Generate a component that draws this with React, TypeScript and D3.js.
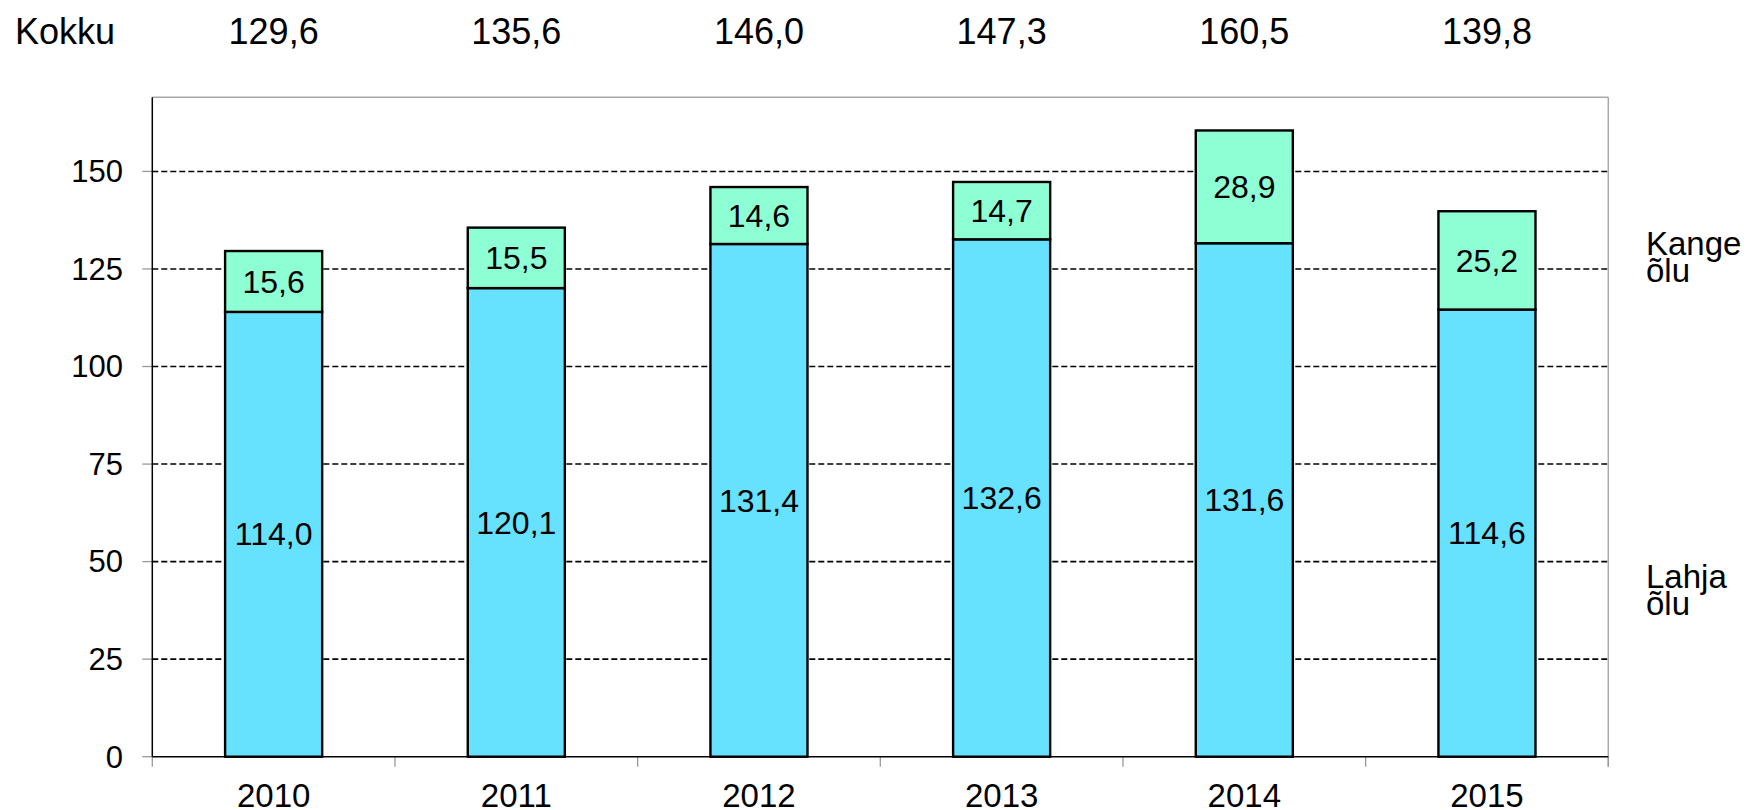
import React from 'react';
import * as d3 from 'd3';

const years = ['2010', '2011', '2012', '2013', '2014', '2015'];
const lahja = [114.0, 120.1, 131.4, 132.6, 131.6, 114.6];
const kange = [15.6, 15.5, 14.6, 14.7, 28.9, 25.2];
const kokku = [129.6, 135.6, 146.0, 147.3, 160.5, 139.8];
const yTicks = [0, 25, 50, 75, 100, 125, 150];

const W = 1752;
const H = 810;
const left = 152.3;
const right = 1608.3;
const top = 97.3;
const bottom = 756.7;

const font = '"Liberation Sans", Arial, Helvetica, sans-serif';
const blue = '#66E2FF';
const green = '#8EFFD4';

const et = d3.formatLocale({ decimal: ',', thousands: ' ', grouping: [3], currency: ['', ''] });
const fmt = et.format('.1f');

const App = () => {
  const x = d3.scaleBand<string>().domain(years).range([left, right]).paddingInner(0.6).paddingOuter(0.3);
  const y = d3.scaleLinear().domain([0, 169]).range([bottom, top]);
  const step = x.step();
  const bw = x.bandwidth();
  const cx = (d: string) => (x(d) as number) + bw / 2;
  const edges = d3.range(years.length + 1).map((i) => left + i * step);

  return (
    <div style={{ position: 'absolute', left: 0, top: 0 }}>
      <svg width={W} height={H} fontFamily={font}>
        <rect x={0} y={0} width={W} height={H} fill="#fff" />

        {/* gridlines */}
        {yTicks.filter((t) => t > 0).map((t) => (
          <line key={t} x1={left} x2={right} y1={y(t)} y2={y(t)} stroke="#000" strokeWidth={1.6} strokeDasharray="6,3" />
        ))}

        {/* frame */}
        <line x1={left} x2={right} y1={top} y2={top} stroke="#aaa" strokeWidth={1.5} />
        <line x1={right} x2={right} y1={top} y2={bottom + 10} stroke="#aaa" strokeWidth={1.5} />

        {/* y ticks */}
        {yTicks.map((t) => (
          <g key={t}>
            <line x1={left - 10} x2={left} y1={y(t)} y2={y(t)} stroke="#999" strokeWidth={1.3} />
            <text x={123} y={y(t)} dy="0.35em" textAnchor="end" fontSize={31}>{t}</text>
          </g>
        ))}

        {/* x ticks */}
        {edges.map((e, i) => (
          <line key={i} x1={e} x2={e} y1={bottom} y2={bottom + 10} stroke="#999" strokeWidth={1.3} />
        ))}

        {/* bars */}
        {years.map((yr, i) => (
          <g key={yr}>
            <rect x={x(yr)} y={y(lahja[i])} width={bw} height={y(0) - y(lahja[i])} fill={blue} stroke="#000" strokeWidth={2.4} />
            <rect x={x(yr)} y={y(lahja[i] + kange[i])} width={bw} height={y(lahja[i]) - y(lahja[i] + kange[i])} fill={green} stroke="#000" strokeWidth={2.4} />
            <text x={cx(yr)} y={(y(0) + y(lahja[i])) / 2} dy="0.35em" textAnchor="middle" fontSize={32}>{fmt(lahja[i])}</text>
            <text x={cx(yr)} y={(y(lahja[i]) + y(lahja[i] + kange[i])) / 2} dy="0.35em" textAnchor="middle" fontSize={32}>{fmt(kange[i])}</text>
            <text x={cx(yr)} y={807} textAnchor="middle" fontSize={33}>{yr}</text>
            <text x={cx(yr)} y={44} textAnchor="middle" fontSize={36}>{fmt(kokku[i])}</text>
          </g>
        ))}

        {/* axes */}
        <line x1={left} x2={left} y1={top} y2={bottom} stroke="#000" strokeWidth={1.5} />
        <line x1={left} x2={right} y1={bottom} y2={bottom} stroke="#000" strokeWidth={1.5} />

        <text x={15} y={44} fontSize={36}>Kokku</text>

        <text x={1646} y={255} fontSize={33}>Kange</text>
        <text x={1646} y={282} fontSize={33}>õlu</text>
        <text x={1646} y={588} fontSize={33}>Lahja</text>
        <text x={1646} y={615} fontSize={33}>õlu</text>
      </svg>
    </div>
  );
};

export default App;
